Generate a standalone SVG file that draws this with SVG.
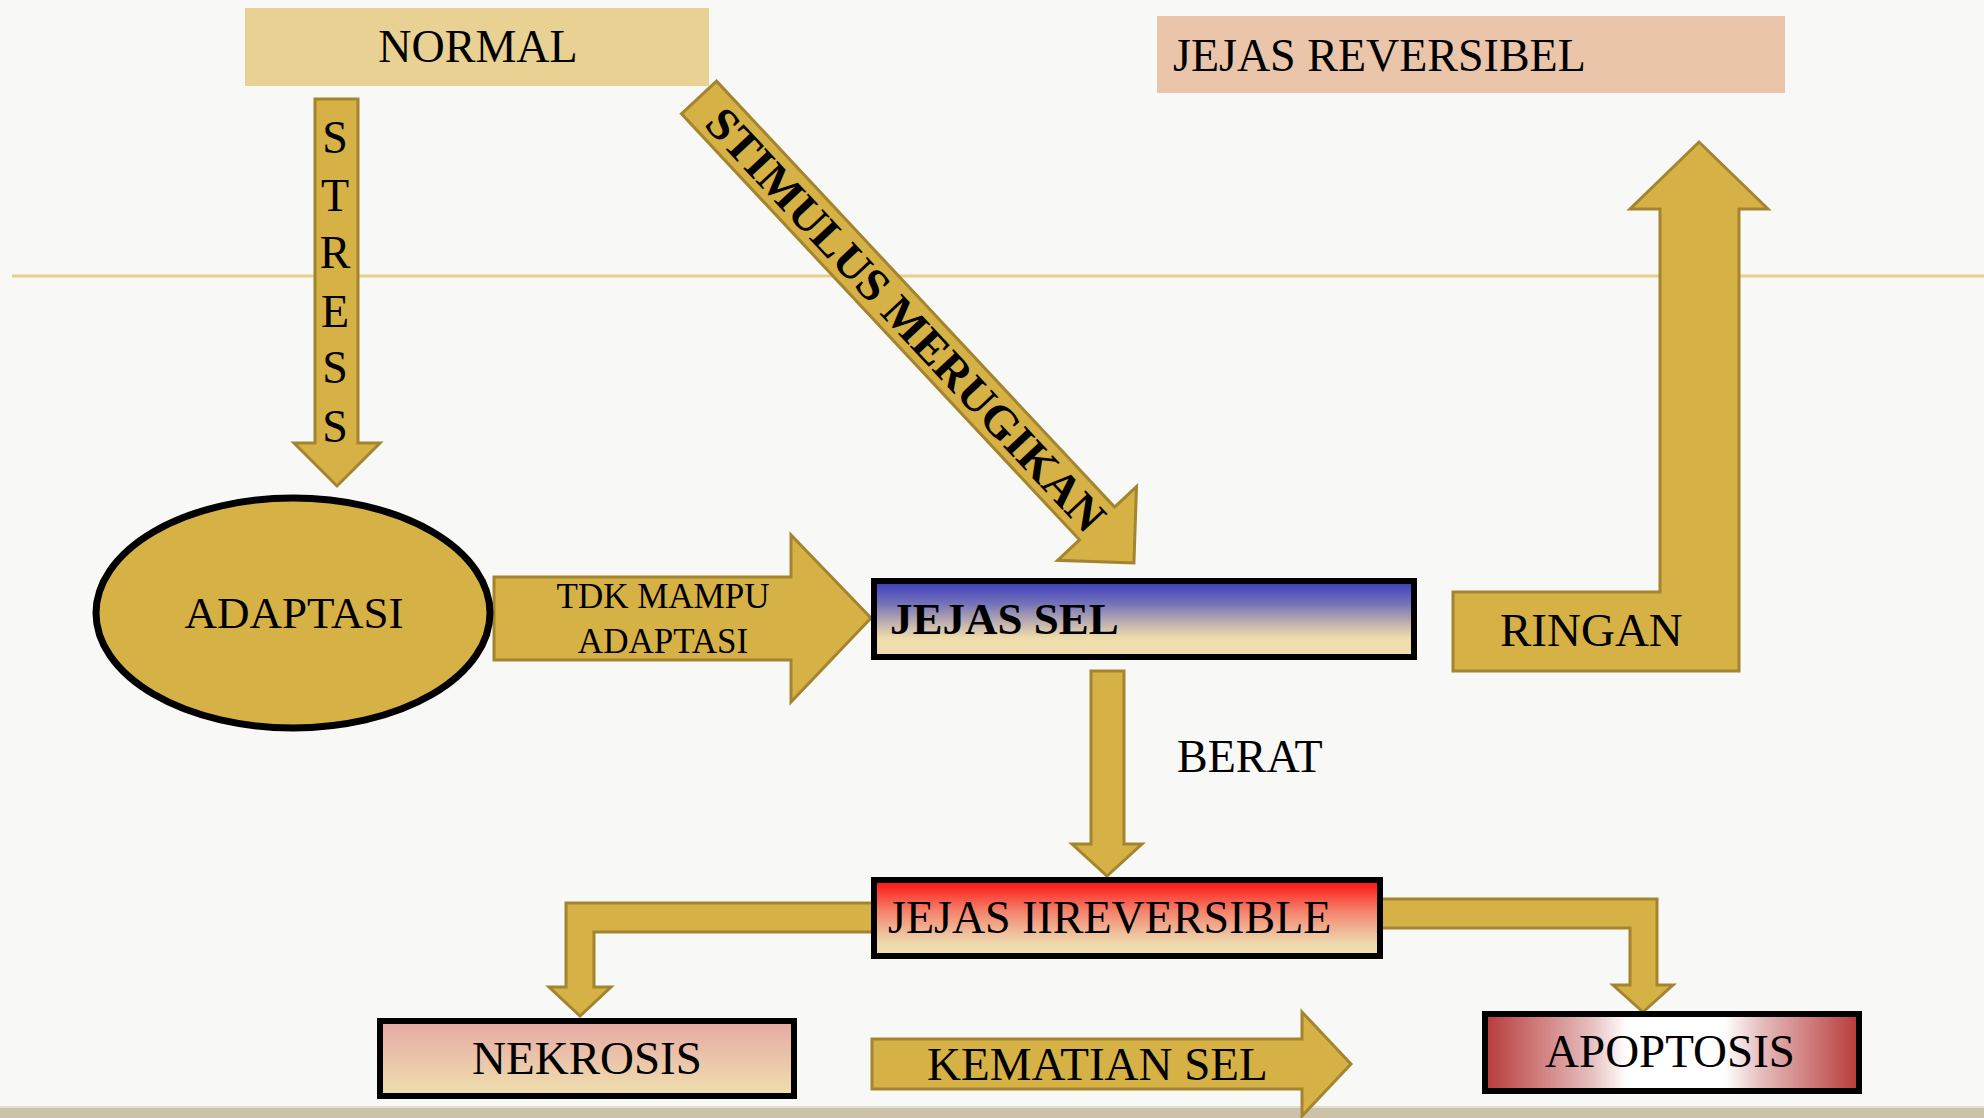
<svg xmlns="http://www.w3.org/2000/svg" width="1984" height="1118" viewBox="0 0 1984 1118">
<defs>
<style>
.t{font-family:"Liberation Serif","Times New Roman",serif;fill:#000;}
.arr{fill:#d6b146;stroke:#a3852f;stroke-width:3;stroke-linejoin:miter;}
.box{stroke:#000;stroke-width:6;}
</style>
<linearGradient id="gSel" x1="0" y1="0" x2="0" y2="1">
<stop offset="0" stop-color="#3a3abf"/>
<stop offset="0.3" stop-color="#7573b8"/>
<stop offset="0.55" stop-color="#bfb0b0"/>
<stop offset="0.75" stop-color="#efdcaa"/>
<stop offset="1" stop-color="#efdeb0"/>
</linearGradient>
<linearGradient id="gIrr" x1="0" y1="0" x2="0" y2="1">
<stop offset="0" stop-color="#ff0d0d"/>
<stop offset="0.4" stop-color="#f4806a"/>
<stop offset="0.65" stop-color="#f0b494"/>
<stop offset="0.85" stop-color="#efdcae"/>
<stop offset="1" stop-color="#efdeb0"/>
</linearGradient>
<linearGradient id="gNek" x1="0" y1="0" x2="0" y2="1">
<stop offset="0" stop-color="#e6a9a5"/>
<stop offset="1" stop-color="#efe0ae"/>
</linearGradient>
<linearGradient id="gApo" x1="0" y1="0" x2="1" y2="0">
<stop offset="0" stop-color="#b83a3a"/>
<stop offset="0.28" stop-color="#e6bcbc"/>
<stop offset="0.38" stop-color="#ffffff"/>
<stop offset="0.64" stop-color="#ffffff"/>
<stop offset="0.74" stop-color="#e6bcbc"/>
<stop offset="1" stop-color="#b83a3a"/>
</linearGradient>
</defs>

<rect x="0" y="0" width="1984" height="1118" fill="#f8f8f7"/>
<rect x="12" y="274.5" width="1972" height="3" fill="#e8cf8c"/>
<rect x="0" y="1106" width="1984" height="12" fill="#cbc2a8"/>
<rect x="0" y="1106" width="1984" height="2" fill="#e4ded0"/>

<g id="connectors">
<g id="stress-arrow">
<polygon class="arr" points="315,99 358,99 358,443 380,443 337,486 294,443 315,443"/>
<text class="t" font-size="46" text-anchor="middle" x="335" y="153">S</text>
<text class="t" font-size="46" text-anchor="middle" x="335" y="211">T</text>
<text class="t" font-size="46" text-anchor="middle" x="335" y="268">R</text>
<text class="t" font-size="46" text-anchor="middle" x="335" y="327">E</text>
<text class="t" font-size="46" text-anchor="middle" x="335" y="383">S</text>
<text class="t" font-size="46" text-anchor="middle" x="335" y="442">S</text>
</g>
<g id="stimulus-arrow" transform="translate(699,97.5) rotate(46.94)">
<polygon class="arr" points="0,-24 583,-24 583,-54 637,0 583,54 583,24 0,24"/>
<text class="t" font-size="46" font-weight="bold" x="23" y="16" textLength="561" lengthAdjust="spacingAndGlyphs">STIMULUS MERUGIKAN</text>
</g>
<g id="tdk-arrow">
<polygon class="arr" points="494,577 791,577 791,535 871,618 791,702 791,660 494,660"/>
<text class="t" font-size="35" text-anchor="middle" x="663" y="608">TDK MAMPU</text>
<text class="t" font-size="35" text-anchor="middle" x="663" y="653">ADAPTASI</text>
</g>
<g id="ringan-arrow">
<polygon class="arr" points="1453,592 1660,592 1660,209 1630,209 1699,142 1768,209 1739,209 1739,671 1453,671"/>
<text class="t" font-size="47" x="1500" y="646">RINGAN</text>
</g>
<g id="berat-arrow">
<polygon class="arr" points="1091,671 1124,671 1124,844 1142,844 1107,876 1072,844 1091,844"/>
<text class="t" font-size="46" x="1177" y="772">BERAT</text>
</g>
<polygon id="to-nekrosis" class="arr" points="880,903 566,903 566,987 549,987 580,1016 611,987 594,987 594,932 880,932"/>
<polygon id="to-apoptosis" class="arr" points="1375,899 1657,899 1657,985 1673,985 1643,1012 1613,985 1630,985 1630,928 1375,928"/>
<g id="kematian-arrow">
<polygon class="arr" points="872,1039 1302,1039 1302,1012 1351,1064 1302,1116 1302,1089 872,1089"/>
<text class="t" font-size="47" x="927" y="1080">KEMATIAN SEL</text>
</g>
</g>

<g id="normal">
<rect x="245" y="8" width="464" height="78" fill="#e8d192"/>
<text class="t" font-size="46" text-anchor="middle" x="478" y="62">NORMAL</text>
</g>
<g id="jejas-reversibel">
<rect x="1157" y="16" width="628" height="77" fill="#eac5a9"/>
<text class="t" font-size="46" x="1173" y="71">JEJAS REVERSIBEL</text>
</g>
<g id="adaptasi">
<ellipse cx="293" cy="613" rx="197" ry="115" fill="#d6b146" stroke="#000" stroke-width="7"/>
<text class="t" font-size="45" text-anchor="middle" x="294" y="628">ADAPTASI</text>
</g>
<g id="jejas-sel">
<rect class="box" x="874" y="581" width="540" height="76" fill="url(#gSel)"/>
<text class="t" font-size="45" font-weight="bold" x="890" y="634">JEJAS SEL</text>
</g>
<g id="jejas-ireversible">
<rect class="box" x="874" y="880" width="506" height="76" fill="url(#gIrr)"/>
<text class="t" font-size="46" x="888" y="933">JEJAS IIREVERSIBLE</text>
</g>
<g id="nekrosis">
<rect class="box" x="380" y="1021" width="414" height="75" fill="url(#gNek)"/>
<text class="t" font-size="47" text-anchor="middle" x="587" y="1074">NEKROSIS</text>
</g>
<g id="apoptosis">
<rect class="box" x="1485" y="1014" width="374" height="77" fill="url(#gApo)"/>
<text class="t" font-size="47" text-anchor="middle" x="1670" y="1067">APOPTOSIS</text>
</g>
</svg>
